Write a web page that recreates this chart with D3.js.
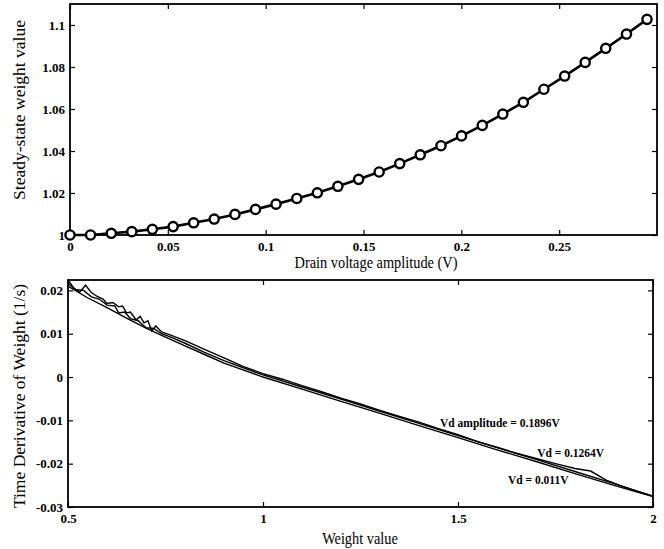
<!DOCTYPE html>
<html>
<head>
<meta charset="utf-8">
<script src="https://cdn.jsdelivr.net/npm/d3@7"></script>
<style>
  body { margin: 0; background: #fff; }
  svg { display: block; }
  .tick text { font-family: 'Liberation Serif', 'Times New Roman', serif; font-weight: bold; font-size: 13px; fill: #000; }
  .title { font-family: 'Liberation Serif', 'Times New Roman', serif; font-size: 17.5px; fill: #000; }
  .note { font-family: 'Liberation Serif', 'Times New Roman', serif; font-weight: bold; font-size: 11.5px; fill: #000; }
</style>
</head>
<body>
<svg id="chart" width="664" height="549"></svg>
<script>
// top panel: drain voltage amplitude (V) vs steady-state weight
const drainAmp = [0, 0.0105, 0.0211, 0.0316, 0.0421, 0.0527, 0.0632, 0.0737, 0.0843, 0.0948,
  0.1053, 0.1159, 0.1264, 0.1369, 0.1475, 0.1580, 0.1685, 0.1790, 0.1896, 0.2001,
  0.2107, 0.2212, 0.2317, 0.2422, 0.2528, 0.2633, 0.2738, 0.2844, 0.2949];
const steadyWeight = [1.0000, 1.0000, 1.0008, 1.0016, 1.0027, 1.0040, 1.0058, 1.0076, 1.0098, 1.0122,
  1.0147, 1.0174, 1.0201, 1.0232, 1.0265, 1.0300, 1.0340, 1.0382, 1.0425, 1.0472,
  1.0522, 1.0576, 1.0632, 1.0694, 1.0757, 1.0822, 1.0889, 1.0957, 1.1027];
const topXTicks = [0, 0.05, 0.1, 0.15, 0.2, 0.25];
const topYTicks = [1, 1.02, 1.04, 1.06, 1.08, 1.1];

// bottom panel: weight value vs time derivative of weight, three drain amplitudes
const derivSmall = [ // Vd = 0.011V
  [0.50, 0.0210], [0.55, 0.0183], [0.60, 0.0160], [0.65, 0.0136], [0.70, 0.0113],
  [0.75, 0.0092], [0.80, 0.0072], [0.85, 0.0052], [0.90, 0.0032], [1.00, 0.0000],
  [1.10, -0.0028], [1.20, -0.0056], [1.30, -0.0084], [1.40, -0.0112], [1.50, -0.0140],
  [1.60, -0.0168], [1.70, -0.0195], [1.80, -0.0223], [1.90, -0.0250], [2.00, -0.0276]];
const derivMid = [ // Vd = 0.1264V
  [0.50, 0.0216], [0.52, 0.0202], [0.54, 0.0200], [0.56, 0.0185], [0.58, 0.0180],
  [0.60, 0.0166], [0.62, 0.0164], [0.63, 0.0148], [0.645, 0.0150], [0.66, 0.0135],
  [0.68, 0.0130], [0.70, 0.0114], [0.72, 0.0112], [0.74, 0.0100], [0.77, 0.0090],
  [0.80, 0.0078], [0.85, 0.0057], [0.90, 0.0038], [0.95, 0.0021], [1.00, 0.0005],
  [1.10, -0.0023], [1.20, -0.0051], [1.30, -0.0079], [1.40, -0.0107], [1.50, -0.0135],
  [1.60, -0.0163], [1.70, -0.0190], [1.80, -0.0218], [1.90, -0.0246], [2.00, -0.0275]];
const derivLarge = [ // Vd amplitude = 0.1896V
  [0.50, 0.0224], [0.515, 0.0205], [0.53, 0.0196], [0.545, 0.0212], [0.56, 0.0195],
  [0.575, 0.0186], [0.59, 0.0180], [0.60, 0.0170], [0.615, 0.0172], [0.63, 0.0162],
  [0.64, 0.0164], [0.65, 0.0148], [0.66, 0.0150], [0.675, 0.0132], [0.685, 0.0140],
  [0.695, 0.0125], [0.705, 0.0130], [0.715, 0.0106], [0.725, 0.0118], [0.74, 0.0104],
  [0.76, 0.0098], [0.80, 0.0084], [0.85, 0.0064], [0.90, 0.0044], [0.95, 0.0024],
  [1.00, 0.0008], [1.05, -0.0005], [1.10, -0.0020], [1.15, -0.0034], [1.20, -0.0049],
  [1.25, -0.0062], [1.30, -0.0077], [1.35, -0.0091], [1.40, -0.0104], [1.45, -0.0119],
  [1.50, -0.0133], [1.55, -0.0149], [1.60, -0.0162], [1.65, -0.0176], [1.70, -0.0188],
  [1.75, -0.0200], [1.80, -0.0211], [1.84, -0.0217], [1.88, -0.0238], [1.92, -0.0252],
  [1.96, -0.0264], [2.00, -0.0275]];
const botXTicks = [0.5, 1, 1.5, 2];
const botYTicks = [-0.03, -0.02, -0.01, 0, 0.01, 0.02];
const notes = [
  { text: 'Vd amplitude = 0.1896V', w: 1.454, v: -0.0115 },
  { text: 'Vd = 0.1264V', w: 1.703, v: -0.0185 },
  { text: 'Vd = 0.011V', w: 1.628, v: -0.0247 }
];

const svg = d3.select('#chart');
const fmt = d => (d === 0 ? '0' : String(d));
const squeeze = 0.82; // horizontal text in the scan is narrower than its height suggests

// MATLAB style box with inward ticks on all four sides
function box (g, x, y, xTicks, yTicks, yPad) {
  const [x0, x1] = x.range();
  const [y0, y1] = y.range();
  g.append('g')
    .attr('transform', `translate(0,${y0})`)
    .call(d3.axisBottom(x).tickValues(xTicks).tickFormat(fmt).tickSizeInner(-5).tickSizeOuter(0).tickPadding(7))
    .call(s => s.select('.domain').remove());
  g.append('g')
    .attr('transform', `translate(0,${y1})`)
    .call(d3.axisTop(x).tickValues(xTicks).tickFormat('').tickSizeInner(-5).tickSizeOuter(0))
    .call(s => s.select('.domain').remove());
  g.append('g')
    .attr('transform', `translate(${x0},0)`)
    .call(d3.axisLeft(y).tickValues(yTicks).tickFormat(fmt).tickSizeInner(-5).tickSizeOuter(0).tickPadding(yPad))
    .call(s => s.select('.domain').remove());
  g.append('g')
    .attr('transform', `translate(${x1},0)`)
    .call(d3.axisRight(y).tickValues(yTicks).tickFormat('').tickSizeInner(-5).tickSizeOuter(0))
    .call(s => s.select('.domain').remove());
  g.selectAll('.tick line').attr('stroke', '#000').attr('stroke-width', 1.2);
  g.append('rect')
    .attr('x', x0).attr('y', y1)
    .attr('width', x1 - x0).attr('height', y0 - y1)
    .attr('fill', 'none').attr('stroke', '#000').attr('stroke-width', 1.8);
}

// ---- top panel
const xTop = d3.scaleLinear().domain([0, 0.3]).range([70, 657]);
const yTop = d3.scaleLinear().domain([1, 1.11]).range([235, 4]);
const gTop = svg.append('g');
box(gTop, xTop, yTop, topXTicks, topYTicks, 5);

const topPts = drainAmp.map((a, i) => ({ a, w: steadyWeight[i] }));
gTop.append('path')
  .datum(topPts)
  .attr('d', d3.line().x(d => xTop(d.a)).y(d => yTop(d.w)))
  .attr('fill', 'none').attr('stroke', '#000').attr('stroke-width', 2.6);
gTop.selectAll('circle')
  .data(topPts)
  .enter().append('circle')
  .attr('cx', d => xTop(d.a))
  .attr('cy', d => yTop(d.w))
  .attr('r', 4.6)
  .attr('fill', '#fff').attr('stroke', '#000').attr('stroke-width', 2.4);

gTop.append('text').attr('class', 'title')
  .attr('transform', `translate(376,268) scale(${squeeze},1)`).attr('text-anchor', 'middle')
  .text('Drain voltage amplitude (V)');
gTop.append('text').attr('class', 'title')
  .attr('transform', 'translate(25,110) rotate(-90)').attr('text-anchor', 'middle')
  .text('Steady-state weight value');

// ---- bottom panel
const xBot = d3.scaleLinear().domain([0.5, 2]).range([68, 653]);
const yBot = d3.scaleLinear().domain([-0.03, 0.0224]).range([507, 280]);
const gBot = svg.append('g');
box(gBot, xBot, yBot, botXTicks, botYTicks, 5);

const derivLine = d3.line().x(d => xBot(d[0])).y(d => yBot(d[1]));
[derivSmall, derivMid, derivLarge].forEach(series => {
  gBot.append('path')
    .datum(series)
    .attr('d', derivLine)
    .attr('fill', 'none').attr('stroke', '#000').attr('stroke-width', 1.4);
});

gBot.selectAll('.note')
  .data(notes)
  .enter().append('text')
  .attr('class', 'note')
  .attr('x', d => xBot(d.w))
  .attr('y', d => yBot(d.v))
  .text(d => d.text);

gBot.append('text').attr('class', 'title')
  .attr('transform', `translate(360,544) scale(${squeeze},1)`).attr('text-anchor', 'middle')
  .text('Weight value');
gBot.append('text').attr('class', 'title')
  .attr('transform', 'translate(25,396) rotate(-90)').attr('text-anchor', 'middle')
  .text('Time Derivative of Weight (1/s)');
</script>
</body>
</html>
